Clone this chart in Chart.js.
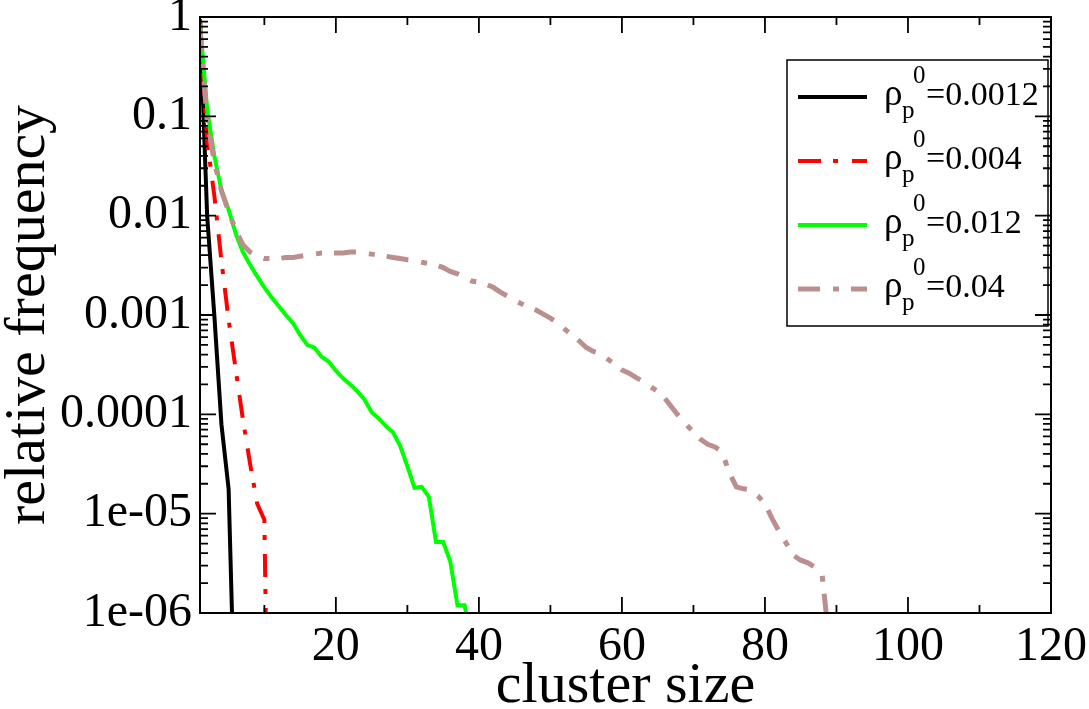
<!DOCTYPE html>
<html>
<head>
<meta charset="utf-8">
<title>cluster size distribution</title>
<script src="https://cdn.jsdelivr.net/npm/chart.js@4.4.0/dist/chart.umd.min.js"></script>
<style>
  html, body { margin: 0; padding: 0; background: #fff; }
  #wrap { width: 1089px; height: 709px; }
</style>
</head>
<body>
<div id="wrap"><canvas id="chart" width="1089" height="709"></canvas></div>
<script>
// cluster sizes (x), shared by all series
const sizes = [
  1, 2, 3, 4, 5, 6, 7, 8, 9, 10, 11, 12, 13, 14, 15, 16, 17, 18, 19, 20,
  21, 22, 23, 24, 25, 26, 27, 28, 29, 30, 31, 32, 33, 34, 35, 36, 37, 38, 39, 40,
  41, 42, 43, 44, 45, 46, 47, 48, 49, 50, 51, 52, 53, 54, 55, 56, 57, 58, 59, 60,
  61, 62, 63, 64, 65, 66, 67, 68, 69, 70, 71, 72, 73, 74, 75, 76, 77, 78, 79, 80,
  81, 82, 83, 84, 85, 86, 87, 88, 89
];

// relative frequency, one array per density
const freq0012 = [0.95, 0.01, 0.001, 0.000079, 0.0000178, 4e-8];
const freq004 = [0.95, 0.056, 0.016, 0.0035, 0.0009, 0.00028, 0.000089, 0.000032,
  0.0000126, 0.0000087, 1e-10];
const freq012 = [0.85, 0.118, 0.04, 0.018, 0.0115, 0.0066, 0.0043, 0.0032, 0.00245, 0.0019,
  0.00151, 0.00123, 0.001, 0.00083, 0.00063, 0.0005, 0.00047, 0.00038, 0.00034, 0.000275,
  0.00023, 0.0002, 0.00017, 0.000141, 0.000105, 0.000091, 0.000076, 0.000066, 0.000048, 0.00003,
  0.0000182, 0.0000186, 0.0000148, 0.0000052, 0.0000052, 0.0000033, 0.0000012, 0.0000012, 5e-7];
const freq04 = [0.76, 0.089, 0.035, 0.0178, 0.011, 0.0071, 0.0051, 0.0043, 0.0039, 0.0037,
  0.0037, 0.0037, 0.0038, 0.0038, 0.0039, 0.004, 0.0041, 0.0042, 0.0042, 0.0042,
  0.0042, 0.0043, 0.0043, 0.0042, 0.0041, 0.004, 0.0039, 0.0038, 0.0037, 0.0036,
  0.00355, 0.0034, 0.0033, 0.0032, 0.003, 0.00275, 0.0026, 0.0024, 0.0022, 0.00214,
  0.00204, 0.0019, 0.0017, 0.00155, 0.0014, 0.00129, 0.0012, 0.00112, 0.00102, 0.00093,
  0.00083, 0.00072, 0.00063, 0.00055, 0.00047, 0.00043, 0.00041, 0.00036, 0.00032, 0.00028,
  0.00026, 0.000234, 0.000214, 0.00019, 0.00017, 0.000145, 0.000117, 0.000095, 0.000079, 0.000066,
  0.000056, 0.00005, 0.000047, 0.000042, 0.000026, 0.0000186, 0.0000178, 0.0000174, 0.0000151, 0.0000126,
  0.0000089, 0.0000066, 0.000005, 0.0000038, 0.0000034, 0.0000032, 0.0000029, 0.0000024, 5e-7];

// legend text: rho_p^0 = value
const legendValues = ['=0.0012', '=0.004', '=0.012', '=0.04'];

// axis ticks
const xTickValues = [20, 40, 60, 80, 100, 120];
const xMinorTicks = [10, 30, 50, 70, 90, 110];
const yTickValues = [1e-6, 1e-5, 1e-4, 1e-3, 1e-2, 1e-1, 1];
const yTickLabels = ['1e-06', '1e-05', '0.0001', '0.001', '0.01', '0.1', '1'];

const SERIF = "'Liberation Serif', 'DejaVu Serif', serif";

function points(values) {
  return values.map((v, i) => ({ x: sizes[i], y: v }));
}

// frame, inward ticks on all four sides, and the legend box
const framePlugin = {
  id: 'frame',
  afterDraw(chart) {
    const { ctx, chartArea: a, scales } = chart;
    const x = scales.x, y = scales.y;
    ctx.save();
    ctx.strokeStyle = '#000';
    ctx.lineWidth = 2;
    ctx.strokeRect(a.left, a.top, a.right - a.left, a.bottom - a.top);

    ctx.lineWidth = 1.8;
    ctx.beginPath();
    const xTick = (v, len) => {
      const px = x.getPixelForValue(v);
      ctx.moveTo(px, a.bottom); ctx.lineTo(px, a.bottom - len);
      ctx.moveTo(px, a.top); ctx.lineTo(px, a.top + len);
    };
    xTickValues.forEach(v => xTick(v, 16));
    xMinorTicks.forEach(v => xTick(v, 8));

    const yTick = (v, len) => {
      const py = y.getPixelForValue(v);
      ctx.moveTo(a.left, py); ctx.lineTo(a.left + len, py);
      ctx.moveTo(a.right, py); ctx.lineTo(a.right - len, py);
    };
    yTickValues.forEach(v => yTick(v, 16));
    yTickValues.slice(0, -1).forEach(d => {
      for (let k = 2; k <= 9; k++) yTick(k * d, 8);
    });
    ctx.stroke();

    // legend
    const boxL = a.right - 264, boxT = a.top + 43, boxW = 261, boxH = 266;
    ctx.lineWidth = 1.5;
    ctx.strokeRect(boxL, boxT, boxW, boxH);
    chart.data.datasets.forEach((ds, i) => {
      const rowY = boxT + 37 + i * 64;
      ctx.beginPath();
      ctx.strokeStyle = ds.borderColor;
      ctx.lineWidth = ds.borderWidth;
      ctx.setLineDash(ds.borderDash || []);
      ctx.moveTo(boxL + 11, rowY);
      ctx.lineTo(boxL + 80, rowY);
      ctx.stroke();
      ctx.setLineDash([]);

      ctx.fillStyle = '#000';
      ctx.textBaseline = 'alphabetic';
      ctx.textAlign = 'left';
      ctx.font = '37px ' + SERIF;
      ctx.fillText('\u03c1', boxL + 97, rowY + 8);
      ctx.font = '25px ' + SERIF;
      ctx.fillText('p', boxL + 115, rowY + 21);
      ctx.fillText('0', boxL + 126, rowY - 14);
      ctx.font = '34px ' + SERIF;
      ctx.fillText(legendValues[i], boxL + 139, rowY + 8);
    });
    ctx.restore();
  }
};

new Chart(document.getElementById('chart'), {
  type: 'line',
  data: {
    datasets: [
      {
        label: '\u03c1p0=0.0012',
        data: points(freq0012),
        borderColor: '#000000',
        borderWidth: 4,
        order: 3
      },
      {
        label: '\u03c1p0=0.004',
        data: points(freq004),
        borderColor: '#ff0000',
        borderWidth: 4,
        borderDash: [23, 12, 5, 14],
        order: 2
      },
      {
        label: '\u03c1p0=0.012',
        data: points(freq012),
        borderColor: '#00ff00',
        borderWidth: 4,
        order: 1
      },
      {
        label: '\u03c1p0=0.04',
        data: points(freq04),
        borderColor: '#bc8f8f',
        borderWidth: 5,
        borderDash: [22, 13, 6, 12],
        order: 0
      }
    ]
  },
  options: {
    responsive: false,
    animation: false,
    layout: { padding: { top: 17, right: 38, left: 0, bottom: 0 } },
    elements: {
      point: { radius: 0 },
      line: { tension: 0, fill: false, borderCapStyle: 'butt', borderJoinStyle: 'miter' }
    },
    datasets: { line: { clip: 0 } },
    plugins: {
      legend: { display: false },
      tooltip: { enabled: false }
    },
    scales: {
      x: {
        type: 'linear',
        min: 1,
        max: 120,
        grid: { display: false, drawTicks: false },
        border: { display: false },
        afterBuildTicks: s => { s.ticks = xTickValues.map(v => ({ value: v })); },
        afterFit: s => { s.height = 96; s.paddingLeft = 0; s.paddingRight = 0; },
        ticks: {
          autoSkip: false,
          maxRotation: 0,
          padding: 6,
          color: '#000',
          font: { family: SERIF, size: 48 },
          callback: v => String(v)
        },
        title: {
          display: true,
          text: 'cluster size',
          color: '#000',
          padding: 0,
          font: { family: SERIF, size: 58, lineHeight: 0.75 }
        }
      },
      y: {
        type: 'logarithmic',
        min: 1e-6,
        max: 1,
        grid: { display: false, drawTicks: false },
        border: { display: false },
        afterBuildTicks: s => { s.ticks = yTickValues.map(v => ({ value: v })); },
        afterFit: s => { s.width = 200; s.paddingTop = 0; s.paddingBottom = 0; },
        ticks: {
          autoSkip: false,
          padding: 8,
          color: '#000',
          font: { family: SERIF, size: 48, lineHeight: 0.5 },
          callback: (v, i) => yTickLabels[i]
        },
        title: {
          display: true,
          text: 'relative frequency',
          color: '#000',
          padding: 0,
          font: { family: SERIF, size: 58, lineHeight: 1 }
        }
      }
    }
  },
  plugins: [framePlugin]
});
</script>
</body>
</html>
